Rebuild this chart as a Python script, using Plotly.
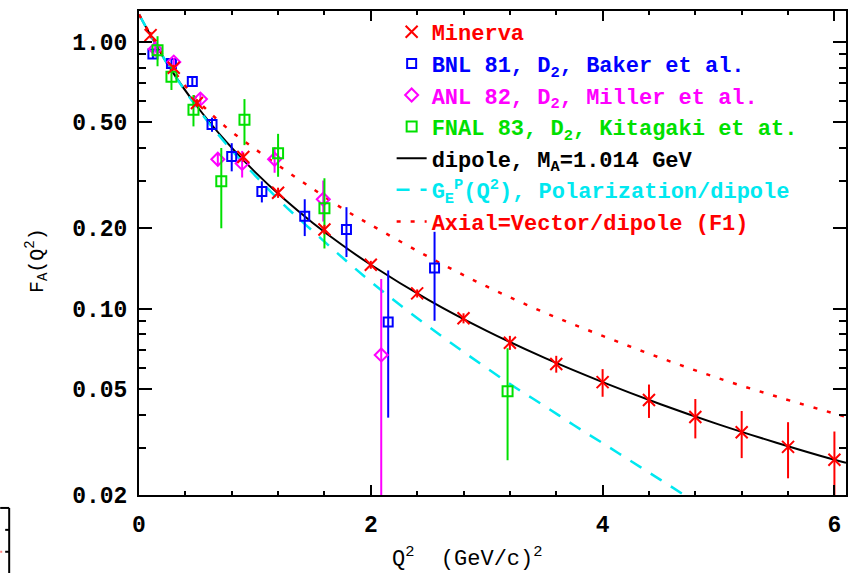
import plotly.graph_objects as go

# ---------------- data ----------------
# Minerva (red)
minerva_q2 = [0.1, 0.3, 0.5, 0.9, 1.2, 1.6, 2.0, 2.4, 2.8, 3.2, 3.6, 4.0, 4.4, 4.8, 5.2, 5.6, 6.0]
minerva_fa = [1.06, 0.80, 0.59, 0.37, 0.272, 0.198, 0.146, 0.114, 0.092, 0.0745, 0.062, 0.053, 0.0454, 0.0392, 0.0344, 0.0303, 0.0271]
minerva_err = [0.03, 0.02, 0.02, 0.015, 0.012, 0.008, 0.005, 0.004, 0.004, 0.0045, 0.0045, 0.0063, 0.0065, 0.0066, 0.0069, 0.0072, 0.0075]

# BNL 81 (blue)
bnl_q2 = [0.12, 0.28, 0.46, 0.63, 0.80, 1.06, 1.43, 1.79, 2.15, 2.55]
bnl_fa = [0.90, 0.83, 0.71, 0.49, 0.372, 0.275, 0.222, 0.198, 0.089, 0.142]
bnl_err = [0.03, 0.03, 0.03, 0.03, 0.045, 0.025, 0.035, 0.042, 0.05, 0.052]

# ANL 82 (magenta)
anl_q2 = [0.14, 0.30, 0.53, 0.68, 0.89, 1.17, 1.59, 2.09]
anl_fa = [0.94, 0.84, 0.61, 0.363, 0.35, 0.363, 0.257, 0.067]
anl_err = [0.03, 0.03, 0.03, 0.02, 0.04, 0.04, 0.045, 0.062]

# FNAL 83 (green)
fnal_q2 = [0.16, 0.28, 0.47, 0.71, 0.91, 1.20, 1.60, 3.18]
fnal_fa = [0.93, 0.74, 0.557, 0.30, 0.51, 0.382, 0.238, 0.049]
fnal_err = [0.12, 0.08, 0.075, 0.10, 0.10, 0.07, 0.07, 0.022]

# curves
curve_q2 = [0, 0.25, 0.5, 0.75, 1.0, 1.25, 1.5, 1.75, 2.0, 2.5, 3.0, 3.5, 4.0, 4.5, 5.0, 5.5, 6.0, 6.1]
dipole_fa = [1.267, 0.820, 0.5735, 0.4235, 0.3255, 0.258, 0.2095, 0.1735, 0.146, 0.1076, 0.0825, 0.0653,
             0.053, 0.0438, 0.0368, 0.0314, 0.0271, 0.0264]
axial_fa = [1.267, 0.836, 0.608, 0.479, 0.397, 0.333, 0.281, 0.238, 0.206, 0.156, 0.121, 0.0966,
            0.079, 0.0653, 0.0548, 0.0468, 0.0404, 0.0393]

pol_q2 = [0, 0.25, 0.5, 0.75, 1.0, 1.25, 1.5, 1.75, 2.0, 2.25, 2.5, 2.75, 3.0, 3.25, 3.5, 3.75, 4.0, 4.25, 4.5, 4.75]
pol_fa = [1.267, 0.820, 0.568, 0.415, 0.316, 0.245, 0.195, 0.156, 0.126, 0.1034, 0.0855, 0.0713, 0.0598,
          0.0505, 0.0431, 0.0366, 0.0313, 0.0267, 0.0228, 0.0194]

y_tickvals = [0.02, 0.05, 0.1, 0.2, 0.5, 1.0]
y_ticktext = ["0.02", "0.05", "0.10", "0.20", "0.50", "1.00"]
y_minor = [0.03, 0.04, 0.06, 0.07, 0.08, 0.09, 0.3, 0.4, 0.6, 0.7, 0.8, 0.9]
x_tickvals = [0, 2, 4, 6]
x_ticktext = ["0", "2", "4", "6"]

RED = "#ff0000"
BLUE = "#0000ff"
MAG = "#ff00ff"
GREEN = "#00e000"
CYAN = "#00e8f0"
MONO = "Liberation Mono"


def lab(text, color):
    return f'<span style="color:{color}">{text}</span>'


fig = go.Figure()

# curves (drawn underneath)
fig.add_trace(go.Scatter(x=curve_q2, y=dipole_fa, mode="lines", line=dict(color="black", width=2, shape="spline"),
                         name=lab("dipole, M<sub>A</sub>=1.014 GeV", "black"), legendrank=5))
fig.add_trace(go.Scatter(x=pol_q2, y=pol_fa, mode="lines",
                         line=dict(color=CYAN, width=2.5, dash="13px,11px", shape="spline"),
                         name=lab("G<sub>E</sub><sup>P</sup>(Q<sup>2</sup>), Polarization/dipole", CYAN), legendrank=6))
fig.add_trace(go.Scatter(x=curve_q2, y=axial_fa, mode="lines",
                         line=dict(color=RED, width=2.5, dash="4px,10px", shape="spline"),
                         name=lab("Axial=Vector/dipole (F1)", RED), legendrank=7))

# data
def data_trace(x, y, err, color, symbol, size, name, rank):
    return go.Scatter(
        x=x, y=y, mode="markers",
        marker=dict(symbol=symbol, size=size, color=color, line=dict(color=color, width=2)),
        error_y=dict(type="data", array=err, visible=True, color=color, thickness=2, width=0),
        name=name, legendrank=rank,
    )

fig.add_trace(data_trace(bnl_q2, bnl_fa, bnl_err, BLUE, "square-open", 9, lab("BNL 81, D<sub>2</sub>, Baker et al.", BLUE), 2))
fig.add_trace(data_trace(anl_q2, anl_fa, anl_err, MAG, "diamond-open", 10, lab("ANL 82, D<sub>2</sub>, Miller et al.", MAG), 3))
fig.add_trace(data_trace(fnal_q2, fnal_fa, fnal_err, GREEN, "square-open", 10, lab("FNAL 83, D<sub>2</sub>, Kitagaki et at.", GREEN), 4))
fig.add_trace(data_trace(minerva_q2, minerva_fa, minerva_err, RED, "x-thin-open", 12, lab("Minerva", RED), 1))

W, H = 857, 573
L, R, T, B = 139, 10, 9, 78
pw, ph = W - L - R, H - T - B


def px(xp):
    return (xp - L) / pw


def py(yp):
    return (H - B - yp) / ph


fig.update_layout(
    width=W, height=H,
    margin=dict(l=L, r=R, t=T, b=B, pad=0),
    paper_bgcolor="white", plot_bgcolor="white",
    font=dict(family=MONO, color="black"),
    showlegend=True,
    legend=dict(x=px(392), y=py(9), xanchor="left", yanchor="top", bgcolor="rgba(0,0,0,0)",
                borderwidth=0, tracegroupgap=0, traceorder="normal",
                font=dict(family=MONO, size=22, weight="bold")),
    xaxis=dict(range=[0, 6.1], tickmode="array", tickvals=x_tickvals, ticktext=x_ticktext,
               ticks="inside", ticklen=10, tickwidth=2, tickcolor="black",
               showline=True, linewidth=2, linecolor="black", mirror="allticks",
               showgrid=False, zeroline=False,
               minor=dict(tickmode="linear", tick0=0, dtick=0.4, ticks="inside", ticklen=4, tickwidth=2,
                          tickcolor="black", showgrid=False),
               tickfont=dict(family=MONO, size=23, weight="bold"), ticklabelstandoff=7),
    yaxis=dict(type="log", range=[-1.69897, 0.1157], tickmode="array", tickvals=y_tickvals, ticktext=y_ticktext,
               ticks="inside", ticklen=13, tickwidth=2, tickcolor="black",
               showline=True, linewidth=2, linecolor="black", mirror="allticks",
               showgrid=False, zeroline=False,
               minor=dict(tickmode="array", tickvals=y_minor, ticks="inside", ticklen=7, tickwidth=2,
                          tickcolor="black", showgrid=False),
               tickfont=dict(family=MONO, size=23, weight="bold"), ticklabelstandoff=5),
    annotations=[
        dict(text="Q<sup>2</sup>  (GeV/c)<sup>2</sup>", xref="paper", yref="paper", x=px(468), y=py(558),
             xanchor="center", yanchor="middle", showarrow=False, font=dict(family=MONO, size=22)),
        dict(text="F<sub>A</sub>(Q<sup>2</sup>)", xref="paper", yref="paper", x=px(37), y=py(260),
             xanchor="center", yanchor="middle", textangle=-90, showarrow=False, font=dict(family=MONO, size=20)),
    ],
    shapes=[
        dict(type="line", xref="paper", yref="paper", x0=px(9), x1=px(9), y0=py(508), y1=py(575),
             line=dict(color="black", width=2)),
        dict(type="line", xref="paper", yref="paper", x0=px(0), x1=px(9), y0=py(508), y1=py(508),
             line=dict(color="black", width=2)),
        dict(type="line", xref="paper", yref="paper", x0=px(5), x1=px(9), y0=py(530), y1=py(530),
             line=dict(color="black", width=2)),
        dict(type="line", xref="paper", yref="paper", x0=px(5), x1=px(9), y0=py(552), y1=py(552),
             line=dict(color="black", width=2)),
        dict(type="line", xref="paper", yref="paper", x0=px(0), x1=px(2), y0=py(552), y1=py(552),
             line=dict(color="#ff8080", width=2)),
    ],
)

fig.write_html("out.html")
